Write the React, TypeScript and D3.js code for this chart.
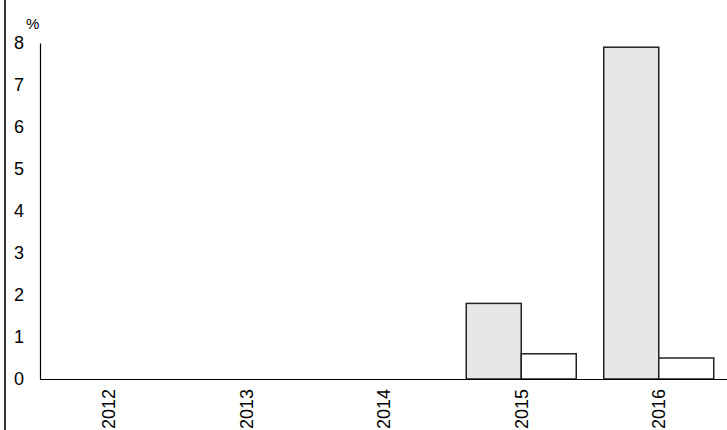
import React, { useEffect, useRef } from "react";
import * as d3 from "d3";

const years = ["2012", "2013", "2014", "2015", "2016"];
const seriesA: (number | null)[] = [null, null, null, 1.8, 7.9];
const seriesB: (number | null)[] = [null, null, null, 0.6, 0.5];
const yTicks = [0, 1, 2, 3, 4, 5, 6, 7, 8];

const W = 727;
const H = 430;
const FONT = "Liberation Sans, Arial, sans-serif";

const App = () => {
  const ref = useRef<SVGSVGElement>(null);

  useEffect(() => {
    const svg = d3.select(ref.current);
    svg.selectAll("*").remove();

    const left = 40;
    const x = d3.scaleBand().domain(years).range([left, 727.5]).paddingInner(0.2).paddingOuter(0.1);
    const y = d3.scaleLinear().domain([0, 8]).range([379, 43]);
    const sub = d3
      .scaleBand()
      .domain(["a", "b"])
      .range([0, x.bandwidth()]);

    // frame line at the far left
    svg
      .append("line")
      .attr("x1", 5)
      .attr("x2", 5)
      .attr("y1", 0)
      .attr("y2", H)
      .attr("stroke", "#333")
      .attr("stroke-width", 2);

    // bars
    const rows = years.map((yr, i) => ({ yr, a: seriesA[i], b: seriesB[i] }));
    const groups = svg
      .append("g")
      .selectAll("g")
      .data(rows)
      .enter()
      .append("g")
      .attr("transform", (d) => `translate(${x(d.yr)},0)`);

    groups
      .filter((d) => d.a != null)
      .append("rect")
      .attr("x", sub("a")!)
      .attr("width", sub.bandwidth())
      .attr("y", (d) => y(d.a as number))
      .attr("height", (d) => y(0) - y(d.a as number))
      .attr("fill", "#e6e7e9")
      .attr("stroke", "#222")
      .attr("stroke-width", 1.5);

    groups
      .filter((d) => d.b != null)
      .append("rect")
      .attr("x", sub("b")!)
      .attr("width", sub.bandwidth())
      .attr("y", (d) => y(d.b as number))
      .attr("height", (d) => y(0) - y(d.b as number))
      .attr("fill", "#fff")
      .attr("stroke", "#222")
      .attr("stroke-width", 1.5);

    // axes
    const yAxis = svg
      .append("g")
      .attr("transform", `translate(${left},0)`)
      .call(d3.axisLeft(y).tickValues(yTicks).tickSize(0).tickPadding(16).tickFormat(d3.format("d")));
    yAxis.select(".domain").attr("stroke", "#000").attr("stroke-width", 1.2);
    yAxis
      .selectAll("text")
      .style("font-family", FONT)
      .style("font-size", "18px")
      .attr("fill", "#000");

    const xAxis = svg
      .append("g")
      .attr("transform", `translate(0,${y(0)})`)
      .call(d3.axisBottom(x).tickSize(0).tickSizeOuter(0));
    xAxis
      .select(".domain")
      .attr("stroke", "#000")
      .attr("stroke-width", 1.2)
      .attr("d", `M${left},0.5H${W}`);
    xAxis
      .selectAll("text")
      .style("font-family", FONT)
      .style("font-size", "18px")
      .attr("fill", "#000")
      .attr("text-anchor", "end")
      .attr("dy", "0.35em")
      .attr("transform", "rotate(-90)")
      .attr("x", -10)
      .attr("y", 0);

    // unit label
    svg
      .append("text")
      .attr("x", 26)
      .attr("y", 29)
      .style("font-family", FONT)
      .style("font-size", "15px")
      .text("%");
  }, []);

  return (
    <svg
      ref={ref}
      width={W}
      height={H}
      style={{ position: "absolute", left: 0, top: 0, background: "#fff" }}
    />
  );
};

export default App;
